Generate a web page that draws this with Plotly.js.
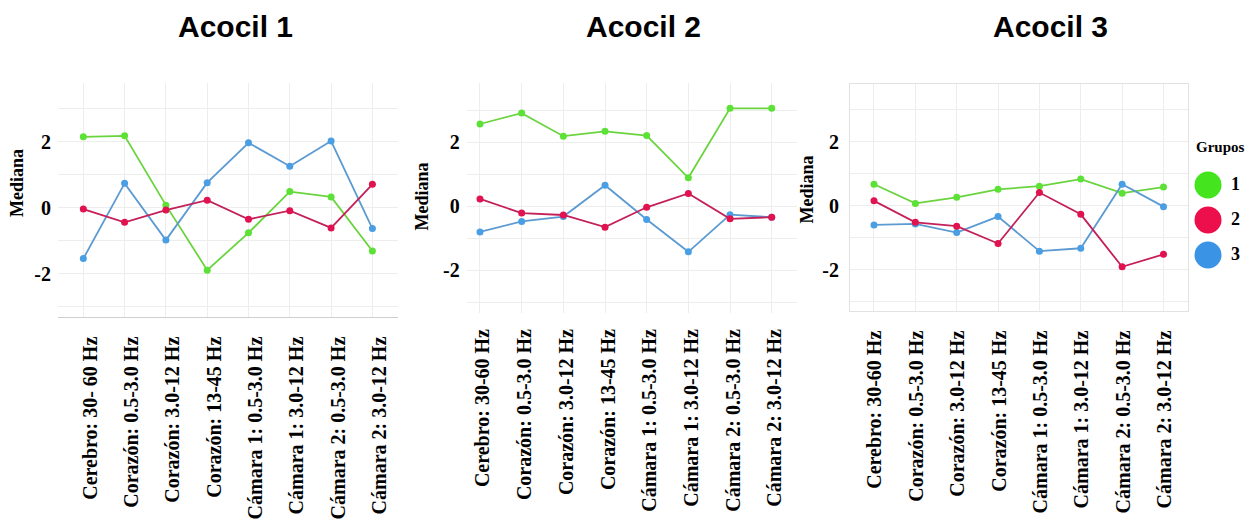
<!DOCTYPE html>
<html>
<head>
<meta charset="utf-8">
<script src="https://cdn.plot.ly/plotly-3.0.1.min.js"></script>
<style>
  html, body { margin: 0; padding: 0; background: #ffffff; }
  #chart { width: 1252px; height: 525px; }
</style>
</head>
<body>
<div id="chart"></div>
<script>
// Frequency bands measured for each crayfish (acocil)
const bandsAcocil1 = [
  "Cerebro: 30- 60 Hz", "Corazón: 0.5-3.0 Hz", "Corazón: 3.0-12 Hz", "Corazón: 13-45 Hz",
  "Cámara 1: 0.5-3.0 Hz", "Cámara 1: 3.0-12 Hz", "Cámara 2: 0.5-3.0 Hz", "Cámara 2: 3.0-12 Hz"
];
const bandsAcocil23 = [
  "Cerebro: 30-60 Hz", "Corazón: 0.5-3.0 Hz", "Corazón: 3.0-12 Hz", "Corazón: 13-45 Hz",
  "Cámara 1: 0.5-3.0 Hz", "Cámara 1: 3.0-12 Hz", "Cámara 2: 0.5-3.0 Hz", "Cámara 2: 3.0-12 Hz"
];

// Group labels
const groups = ["1", "2", "3"];

// Median per band, Acocil 1
const acocil1Grupo1 = [2.15, 2.18, 0.08, -1.89, -0.76, 0.49, 0.33, -1.31];
const acocil1Grupo2 = [-0.04, -0.44, -0.07, 0.23, -0.35, -0.09, -0.61, 0.71];
const acocil1Grupo3 = [-1.54, 0.74, -0.98, 0.76, 1.97, 1.26, 2.02, -0.63];

// Median per band, Acocil 2
const acocil2Grupo1 = [2.57, 2.91, 2.19, 2.34, 2.21, 0.89, 3.06, 3.06];
const acocil2Grupo2 = [0.23, -0.21, -0.27, -0.65, -0.03, 0.40, -0.39, -0.34];
const acocil2Grupo3 = [-0.80, -0.47, -0.32, 0.66, -0.41, -1.42, -0.26, -0.34];

// Median per band, Acocil 3
const acocil3Grupo1 = [0.67, 0.07, 0.26, 0.51, 0.61, 0.83, 0.39, 0.58];
const acocil3Grupo2 = [0.15, -0.52, -0.64, -1.18, 0.41, -0.27, -1.91, -1.52];
const acocil3Grupo3 = [-0.60, -0.57, -0.84, -0.34, -1.42, -1.33, 0.67, -0.03];

// y-axis ticks: labelled majors, unlabelled minors
const yTickVals = [-3, -2, -1, 0, 1, 2, 3];
const yTickText = ["", "-2", "", "0", "", "2", ""];

const lineColors = { "1": "#6ad43f", "2": "#c4205a", "3": "#5c9bd2" };
const markerColors = { "1": "#5ce236", "2": "#e0124f", "3": "#4a9ee3" };
const legendColors = { "1": "#44e41f", "2": "#ec0f4c", "3": "#3b93e6" };

const W = 1252, H = 525;
const px = v => v / W;
const py = v => 1 - v / H;

const serif = "Liberation Serif, Times New Roman, serif";
const sans = "Liberation Sans, Arial, sans-serif";
const gridColor = "#ededed";

const panels = [
  { bands: bandsAcocil1, series: [acocil1Grupo1, acocil1Grupo2, acocil1Grupo3],
    x: [58, 398], y: [83, 316.7], xr: [-0.613, 7.62], yr: [-3.30, 3.78], frame: "bottom", shift: 7 },
  { bands: bandsAcocil23, series: [acocil2Grupo1, acocil2Grupo2, acocil2Grupo3],
    x: [466.7, 796.7], y: [83, 313], xr: [-0.319, 7.6], yr: [-3.33, 3.85], frame: "none", shift: 3 },
  { bands: bandsAcocil23, series: [acocil3Grupo1, acocil3Grupo2, acocil3Grupo3],
    x: [850, 1188.3], y: [84, 310.7], xr: [-0.58, 7.6], yr: [-3.28, 3.80], frame: "box", shift: 1 }
];

const traces = [];
const layout = {
  width: W, height: H,
  margin: { l: 0, r: 0, t: 0, b: 0 },
  paper_bgcolor: "#ffffff",
  plot_bgcolor: "#ffffff",
  showlegend: false,
  annotations: [],
  font: { family: serif, color: "#000000" }
};

const drawOrder = [0, 2, 1]; // green, blue, then red on top

panels.forEach((p, i) => {
  const n = i + 1;
  const xa = "x" + (n > 1 ? n : "");
  const ya = "y" + (n > 1 ? n : "");
  drawOrder.forEach(g => {
    const name = groups[g];
    traces.push({
      type: "scatter", mode: "lines+markers",
      x: p.bands, y: p.series[g], name: name,
      xaxis: xa, yaxis: ya,
      line: { color: lineColors[name], width: 1.8 },
      marker: { color: markerColors[name], size: 7 },
      hoverinfo: "x+y+name"
    });
  });

  layout["xaxis" + (n > 1 ? n : "")] = {
    type: "category",
    domain: [px(p.x[0]), px(p.x[1])],
    range: p.xr,
    anchor: ya,
    showgrid: true, gridcolor: gridColor, gridwidth: 1,
    zeroline: false,
    showline: p.frame !== "none",
    linecolor: p.frame === "box" ? "#e2e2e2" : "#cfcfcf",
    linewidth: 1,
    mirror: p.frame === "box",
    ticks: "", tickangle: -90,
    ticklabelstandoff: 11,
    ticklabelshift: p.shift,
    tickfont: { family: serif, size: 20, color: "#000000", weight: "bold" }
  };
  layout["yaxis" + (n > 1 ? n : "")] = {
    domain: [py(p.y[1]), py(p.y[0])],
    range: p.yr,
    anchor: xa,
    tickvals: yTickVals, ticktext: yTickText,
    showgrid: true, gridcolor: gridColor, gridwidth: 1,
    zeroline: false,
    showline: p.frame === "box",
    linecolor: "#e2e2e2", mirror: p.frame === "box",
    ticks: "",
    ticklabelstandoff: 6,
    tickfont: { family: serif, size: 20, color: "#000000", weight: "bold" }
  };

  // Panel title
  layout.annotations.push({
    text: "Acocil " + n, xref: "paper", yref: "paper",
    x: px([235, 643, 1050][i]), y: py(27), xanchor: "center", yanchor: "middle",
    showarrow: false,
    font: { family: sans, size: 30, color: "#000000", weight: "bold" }
  });
  // y-axis title
  layout.annotations.push({
    text: "Mediana", xref: "paper", yref: "paper",
    x: px([17, 421.7, 806.5][i]), y: py([183, 196.7, 190][i]),
    xanchor: "center", yanchor: "middle", textangle: -90, showarrow: false,
    font: { family: serif, size: 18, color: "#000000", weight: "bold" }
  });
});

// Legend for the groups, drawn on its own small axes
traces.push({
  type: "scatter", mode: "markers",
  x: groups.map(() => 0.3), y: groups,
  xaxis: "x4", yaxis: "y4",
  marker: { size: 27, color: groups.map(g => legendColors[g]) },
  hoverinfo: "skip", cliponaxis: false
});
traces.push({
  type: "scatter", mode: "text",
  x: groups.map(() => 0.76), y: groups,
  text: groups, textposition: "middle center",
  xaxis: "x4", yaxis: "y4",
  textfont: { family: serif, size: 18, color: "#000000", weight: "bold" },
  hoverinfo: "skip", cliponaxis: false
});
layout.xaxis4 = {
  domain: [px(1190), px(1250)], range: [0, 1], anchor: "y4",
  visible: false, fixedrange: true
};
layout.yaxis4 = {
  type: "category", domain: [py(272.5), py(167.5)], range: [2.5, -0.5], anchor: "x4",
  visible: false, fixedrange: true
};
layout.annotations.push({
  text: "Grupos", xref: "paper", yref: "paper",
  x: px(1220), y: py(147), xanchor: "center", yanchor: "middle", showarrow: false,
  font: { family: serif, size: 15, color: "#000000", weight: "bold" }
});

Plotly.newPlot("chart", traces, layout, { displayModeBar: false, staticPlot: true });
</script>
</body>
</html>
